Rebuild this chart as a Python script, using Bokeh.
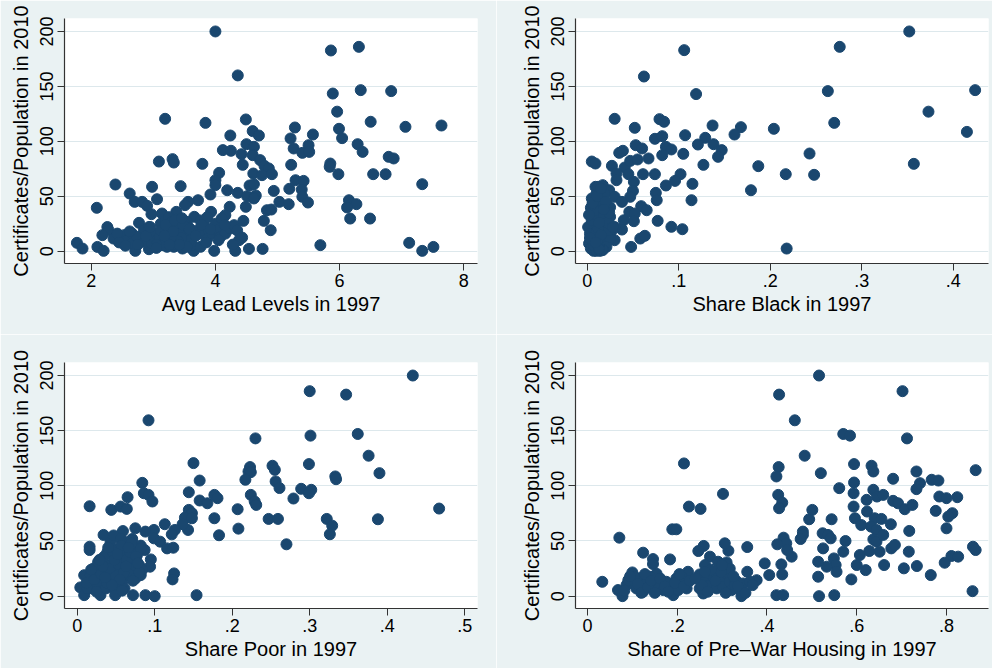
from bokeh.plotting import figure
from bokeh.layouts import column, row
from bokeh.models import FixedTicker, Range1d
from bokeh.embed import file_html
from bokeh.resources import INLINE

# ---------------- data ----------------
y_title = "Certificates/Population in 2010"
y_ticks = [0, 50, 100, 150, 200]

lead_ticks = [2, 4, 6, 8]
lead_labels = ["2", "4", "6", "8"]
lead_x = [4.00, 5.86, 6.31, 4.36, 5.89, 6.34, 6.83, 5.96, 3.19, 3.84, 4.49, 6.50, 7.06, 7.64, 5.99, 5.28,
          4.24, 4.60, 4.70, 5.21, 5.57, 6.04, 4.50, 4.62, 5.26, 5.50, 6.29, 4.12, 4.25, 4.42, 4.60, 5.40,
          5.51, 6.37, 3.09, 3.31, 3.33, 3.79, 4.44, 4.72, 4.79, 4.86, 5.22, 5.85, 5.84, 6.79, 6.87, 4.06,
          4.61, 4.75, 4.91, 5.98, 6.54, 6.74, 4.00, 5.29, 5.42, 7.33, 2.39, 2.98, 3.44, 4.00, 4.55, 4.62,
          4.19, 4.36, 4.94, 5.19, 5.39, 2.62, 3.92, 4.51, 4.65, 5.40, 3.06, 3.72, 2.70, 2.82, 3.56, 4.62,
          5.03, 5.18, 5.49, 6.15, 6.27, 2.09, 2.90, 3.51, 4.23, 4.49, 6.12, 4.83, 4.90, 2.97, 3.14, 3.37,
          3.93, 6.17, 6.49, 3.66, 4.16, 4.78, 4.89, 7.12, 7.33, 7.51, 5.69, 4.54, 4.76, 4.32, 3.98, 3.65,
          1.77, 1.86, 2.10, 2.20, 2.71, 2.93,
          2.26, 2.28, 2.18, 2.36, 2.47, 2.53, 2.58, 2.66, 2.77, 2.85, 2.79, 2.93, 3.01, 3.06, 3.12, 3.17,
          3.22, 3.25, 3.28, 3.33, 3.38, 3.41, 3.44, 3.47, 3.49, 3.55, 3.60, 3.63, 3.71, 3.76, 3.81, 3.87,
          3.89, 3.95, 4.00, 4.03, 4.08, 4.16, 4.24, 4.30, 4.35, 4.38, 4.43, 4.45, 3.20, 3.25, 3.30, 3.54,
          3.76, 3.87, 4.10, 2.42, 2.66, 2.74, 2.87, 2.98, 3.14, 3.22, 3.54, 3.76,
          3.10, 3.18, 3.27, 3.35, 3.45, 3.52, 3.15, 3.30, 3.40, 3.58, 3.05, 3.36,
          2.45, 2.55, 2.62, 2.75, 2.88, 2.95, 3.05, 3.12, 3.20, 3.28, 3.35, 3.42, 3.48, 3.58, 3.68, 3.78,
          3.85, 3.92, 4.05, 4.15, 4.28, 3.32, 3.26, 3.18, 3.46]
lead_y = [200, 182.7, 186, 160, 143.5, 146.6, 145.7, 127, 120.5, 116.8, 119.9, 117.8, 113.2, 114.4, 111.4, 112.6,
          105.3, 109.3, 105.3, 102.6, 106.2, 102.9, 97.4, 95, 93.5, 96.5, 97.4, 92, 91.4, 88.3, 87.4, 89.5,
          90.4, 90.4, 81.6, 83.8, 80.7, 79.5, 78.6, 82.9, 77.7, 75.3, 78.6, 79.8, 76.8, 85.9, 84.4, 71.3,
          70.7, 69.2, 70.1, 70.1, 70.1, 70.1, 64.6, 64.6, 64, 61, 60.7, 58.6, 59.2, 60.1, 59.8, 61,
          55.5, 53.1, 54.9, 56.8, 56.1, 52.5, 51.6, 50.1, 50.7, 49.5, 47.3, 46.4, 44.9, 44.9, 44.9, 48,
          44.9, 42.8, 44.3, 46.4, 42.8, 39.5, 41.3, 41.9, 40.4, 40.4, 39.8, 37.3, 37.9, 33.7, 34.3, 35.8,
          35.8, 29.7, 29.7, 31.3, 32.8, 27.6, 19.1, 7.6, 0.3, 3.9, 5.5, 2.1, 2.1, 0.3, 0.3, 0.3,
          7.6, 2.4, 3.9, 0.3, 0.3, 1.8,
          22, 19, 14.6, 11.5, 13, 14.6, 10, 7, 25.8, 19, 10, 22, 16, 10, 25, 19,
          16, 11.5, 8.5, 4, 22, 16, 10, 2.4, 19, 14.6, 10, 5.5, 19, 16, 25, 11.5,
          19, 16, 25, 19, 13, 16, 20.6, 23.7, 19, 10, 12.4, 27.6, 28, 31, 26.7, 26.7,
          28, 31, 29.7, 16, 16, 13, 8.5, 7, 5.5, 4, 4, 4,
          13, 8, 18, 6, 12, 24, 20, 14, 9, 21, 6, 29,
          8, 5, 18, 6, 14, 22, 3, 19, 24, 12, 28, 6, 24, 20, 14, 24,
          8, 20, 10, 24, 6, 18, 6, 14, 30]

black_ticks = [0, 0.1, 0.2, 0.3, 0.4]
black_labels = ["0", ".1", ".2", ".3", ".4"]
black_x = [.352, .106, .276, .062, .119, .263, .424, .373, .030, .079, .084, .052, .107, .137, .168, .161,
           .204, .270, .415, .074, .082, .129, .053, .060, .121, .138, .147, .086, .092, .035, .039, .082,
           .105, .143, .243, .005, .009, .027, .041, .047, .055, .067, .127, .187, .357, .032, .045, .061,
           .074, .102, .217, .248, .032, .051, .096, .115, .086, .179, .009, .017, .024, .050, .075, .030,
           .047, .076, .114, .004, .038, .059, .065, .046, .052, .025, .040, .051, .077, .038, .092, .104,
           .030, .058, .063, .048, .218,
           .001, .003, .002, .004, .007, .010, .014, .007, .008, .010, .010, .012, .014, .008, .010, .016,
           .017, .017, .019, .021, .016, .005, .006, .007, .005, .014, .019, .021, .025, .027, .025, .021,
           .023, .030, .017, .012, .015, .008, .012, .020, .003, .011, .006, .018, .022, .013,
           .002, .006, .011, .015, .020, .024, .028, .009, .013, .018]
black_y = [200, 183, 186, 159, 143, 145.7, 146.6, 127, 120.5, 120.2, 117.8, 112.3, 105.6, 114.4, 112.9, 106.2,
           111.4, 116.8, 108.6, 102.3, 104.7, 103.2, 96.5, 93.5, 97.1, 97.4, 92, 95, 92.6, 89.5, 91.4, 87.4,
           88.6, 85.9, 88.9, 81.6, 79.8, 77.7, 76.2, 82.2, 83.5, 84.4, 78.6, 77.4, 79.5, 70.7, 70.1, 70.1,
           70.1, 70.1, 70.1, 69.5, 64.6, 63.1, 64, 61.3, 59.8, 55.5, 58.6, 60.1, 55.5, 54.9, 53.1, 49.5,
           49.5, 46.4, 46.4, 39.5, 44.9, 41, 37.3, 35.8, 34.3, 31.3, 28.2, 27.3, 27.6, 19.7, 22.2, 20,
           10, 11.5, 14, 3.9, 2.4,
           22, 16, 7, 2.4, 0.3, 0.3, 0.3, 5.5, 11.5, 17.6, 25, 31, 40, 46, 52, 46,
           36, 25, 16, 10, 4, 28, 34, 40, 48, 54, 52, 43, 40, 19, 11.5, 4,
           19, 22, 1, 20.6, 14.6, 37, 58.6, 30, 12, 8, 43, 33, 26, 2,
           33, 44, 50, 57, 45, 35, 22, 8, 26, 38]

poor_ticks = [0, 0.1, 0.2, 0.3, 0.4, 0.5]
poor_labels = ["0", ".1", ".2", ".3", ".4", ".5"]
poor_x = [.433, .300, .347, .092, .230, .301, .362, .376, .150, .299, .223, .221, .224, .252, .255, .390,
          .158, .217, .256, .261, .333, .334, .289, .302, .299, .084, .086, .092, .097, .144, .158, .168,
          .177, .181, .224, .229, .231, .279, .016, .044, .056, .064, .065, .144, .148, .207, .467, .139,
          .148, .177, .247, .259, .322, .388, .329, .326, .208, .183, .270, .143, .136, .113, .126, .099,
          .075, .088, .099, .107, .116, .124, .122, .034, .016, .016, .059, .071, .082, .087, .095, .094,
          .125, .123, .082, .072, .088, .100, .154,
          .004, .009, .009, .015, .019, .021, .026, .028, .030, .032, .034, .037, .039, .041, .045, .047,
          .049, .052, .054, .056, .058, .060, .062, .065, .067, .069, .071, .073, .077, .080, .082, .084,
          .043, .047, .056, .024, .017, .028, .037, .043, .052, .061, .013, .039, .049, .062, .069, .075,
          .012, .018, .022, .027, .031, .035, .038, .042, .046, .050, .053, .057, .060, .064, .068, .072,
          .076, .080, .025, .033, .040, .048, .055, .063, .070, .078, .045, .052, .058, .036, .029, .066]
poor_y = [200, 185.8, 182.7, 159.4, 143, 145.5, 147, 127.3, 120.6, 119.7, 117, 113, 112.4, 118.2, 114.5, 111.5,
          104.8, 105.5, 104, 98, 108.5, 106, 97.3, 96.4, 93.3, 102.7, 93.3, 91.8, 85.8, 94.2, 86.7, 84.2,
          91.8, 88.8, 91.8, 85.8, 82.7, 88.5, 81.5, 78.2, 81.2, 79.1, 89.7, 78.2, 75.2, 78.8, 79.4, 71.2,
          70.6, 70.6, 70, 70, 70, 69.7, 63.9, 56.1, 61.2, 55.2, 47, 60, 65.2, 65.2, 60, 60,
          61.5, 58.5, 52.4, 49.4, 43.3, 43.9, 56, 55.5, 44.8, 41.8, 59, 51.8, 45.8, 41.8, 33.3, 26.7,
          20.6, 15.2, 19.1, 0.9, 0.9, 0, 0.9,
          7.9, 19, 0.9, 13, 7, 25, 19, 11.5, 0.9, 31, 22, 7, 40, 16, 28, 7,
          0.9, 22, 43, 34, 13, 25, 49, 39, 19, 31, 43, 25, 37, 28, 43, 24,
          49, 55, 52, 13, 19, 25, 28, 11.5, 10, 7, 7, 22, 36, 28, 19, 16,
          12, 24, 15, 31, 20, 36, 12, 25, 40, 18, 29, 46, 21, 33, 40, 14,
          36, 22, 4, 27, 44, 33, 15, 27, 48, 30, 10, 38, 5, 17, 33, 44]

prewar_ticks = [0, 0.2, 0.4, 0.6, 0.8]
prewar_labels = ["0", ".2", ".4", ".6", ".8"]
prewar_x = [.516, .427, .702, .462, .570, .585, .712, .484, .215, .426, .421, .520, .594, .633, .637, .681,
            .733, .741, .733, .767, .782, .865, .594, .561, .593, .637, .645, .659, .622, .302, .425, .434,
            .427, .784, .800, .824, .681, .692, .707, .724, .776, .813, .804, .800, .593, .623, .226, .252,
            .501, .494, .544, .596, .640, .655, .610, .632, .676, .717, .644, .189, .198, .071, .480, .480,
            .524, .536, .437, .443, .475, .575, .637, .644, .659, .651, .677, .685, .716, .859, .865, .811,
            .826, .796, .734, .705, .765, .661, .607, .600, .620, .588, .628, .525, .542, .570, .549, .553,
            .533, .514, .514, .555, .550, .516, .421, .436, .858, .455, .445, .432, .434, .423, .405, .395,
            .377, .356, .356, .332, .314, .306, .273, .259, .247, .262, .291, .310, .310, .250, .224, .210,
            .184, .154, .146, .146, .124, .100, .033, .068, .078, .191, .343, .258,
            .087, .098, .109, .117, .124, .131, .139, .146, .157, .169, .176, .187, .198, .202, .210, .221,
            .250, .262, .273, .280, .288, .295, .302, .317, .321, .328, .340, .347, .362, .291, .317, .105,
            .091,
            .082, .095, .112, .120, .128, .135, .142, .150, .162, .172, .180, .195, .205, .215, .228, .255,
            .268, .285, .298, .308, .325, .335, .352, .368, .300, .275, .240, .262]
prewar_y = [200, 182.7, 185.8, 159.4, 147, 145.5, 143, 127.3, 120.3, 117, 108.5, 111.5, 119.7, 118.2, 113, 106.4,
            113, 102.4, 97, 105.5, 104.8, 114.2, 103, 97.9, 93.3, 96.4, 90.3, 91.8, 87.3, 92.7, 91.8, 84.8,
            79.7, 90.3, 88.8, 89.7, 86.4, 84.2, 78.8, 82.7, 77.3, 75.2, 72.1, 61.5, 81.2, 76.7, 81.2, 79.1,
            78.2, 69.7, 69.7, 70.6, 70.6, 70, 64.5, 63, 65.2, 59.1, 60, 60.6, 60.6, 53, 58.5, 55.5,
            57, 55.5, 53, 47.9, 51.8, 50, 51.5, 49.4, 55.5, 40.3, 43.3, 46.4, 40.3, 44.8, 41.8, 36.4,
            35.8, 30.3, 27.3, 25.2, 19.1, 28.2, 37.3, 28.2, 23.6, 15.2, 40.9, 43.3, 52.4, 40.3, 34.2, 28.2,
            26.7, 31.2, 17.6, 22.1, 0.9, 0, 0.9, 0.9, 4.5, 35.8, 41.8, 28.8, 19.7, 47, 19.1, 29.7,
            14.5, 44.5, 22.1, 13.6, 41.2, 47.9, 35.8, 45.5, 40.9, 28.2, 31.2, 30.6, 19.1, 19.7, 22.1, 17.6,
            33.3, 20.3, 33.6, 29.1, 39.4, 21.5, 13, 5.5, 0, 0.9, 0, 2.4,
            10, 13, 7, 16, 4, 11.5, 17.6, 7, 11.5, 5.5, 13, 8.5, 16, 5.5, 11.5, 7,
            7, 13, 10, 17.6, 7, 13, 8.5, 13, 5.5, 10, 5.5, 11.5, 13, 22, 25, 17.6,
            14.5,
            5, 18, 11, 3, 20, 8, 14, 3, 16, 9, 4, 12, 20, 9, 14, 10,
            4, 14, 22, 3, 18, 9, 3, 10, 28, 24, 16, 22]

# ---------------- style ----------------
BG = "#EAF2F3"
NAVY = "#1A476F"
FONT = "Liberation Sans"


def make(xs, ys, xr, xticks, xlabels, xtitle, bl, br, bt, bb):
    p = figure(width=496, height=334, output_backend="svg", toolbar_location=None,
               x_range=Range1d(xr[0], xr[1]), y_range=Range1d(-11.2, 211.8),
               min_border_left=bl, min_border_right=br, min_border_top=bt, min_border_bottom=bb)
    p.border_fill_color = BG
    p.background_fill_color = "white"
    p.outline_line_color = None
    p.xgrid.visible = False
    p.ygrid.grid_line_color = "#DDE8EC"
    p.ygrid.grid_line_width = 1.2
    p.scatter(xs, ys, size=11, fill_color=NAVY, line_color=NAVY)

    p.xaxis.ticker = FixedTicker(ticks=xticks)
    p.xaxis.major_label_overrides = {t: l for t, l in zip(xticks, xlabels)}
    p.yaxis.ticker = FixedTicker(ticks=y_ticks)
    p.yaxis.major_label_orientation = "vertical"
    p.xaxis.axis_label = xtitle
    p.yaxis.axis_label = y_title
    for ax in (p.xaxis[0], p.yaxis[0]):
        ax.axis_line_color = "#333333"
        ax.axis_line_width = 1.2
        ax.major_tick_line_color = "#333333"
        ax.major_tick_out = 7
        ax.major_tick_in = 0
        ax.minor_tick_line_color = None
        ax.major_label_text_font = FONT
        ax.major_label_text_font_size = "18px"
        ax.major_label_text_color = "black"
        ax.axis_label_text_font = FONT
        ax.axis_label_text_font_size = "20px"
        ax.axis_label_text_font_style = "normal"
        ax.axis_label_text_color = "black"
        ax.major_label_standoff = 4
        ax.axis_label_standoff = 6
    p.xaxis.major_label_standoff = 3
    p.xaxis.axis_label_standoff = 3
    return p


p1 = make(lead_x, lead_y, (1.57, 8.22), lead_ticks, lead_labels, "Avg Lead Levels in 1997", 64, 19, 18, 71)
p2 = make(black_x, black_y, (-0.0128, 0.4386), black_ticks, black_labels, "Share Black in 1997", 79, 4, 18, 71)
p3 = make(poor_x, poor_y, (-0.0164, 0.5165), poor_ticks, poor_labels, "Share Poor in 1997", 64, 19, 28, 60)
p4 = make(prewar_x, prewar_y, (-0.0267, 0.8936), prewar_ticks, prewar_labels,
          "Share of Pre\u2013War Housing in 1997", 79, 4, 28, 60)

layout = column(row(p1, p2), row(p3, p4))

open("out.html", "w").write(file_html(layout, INLINE))
